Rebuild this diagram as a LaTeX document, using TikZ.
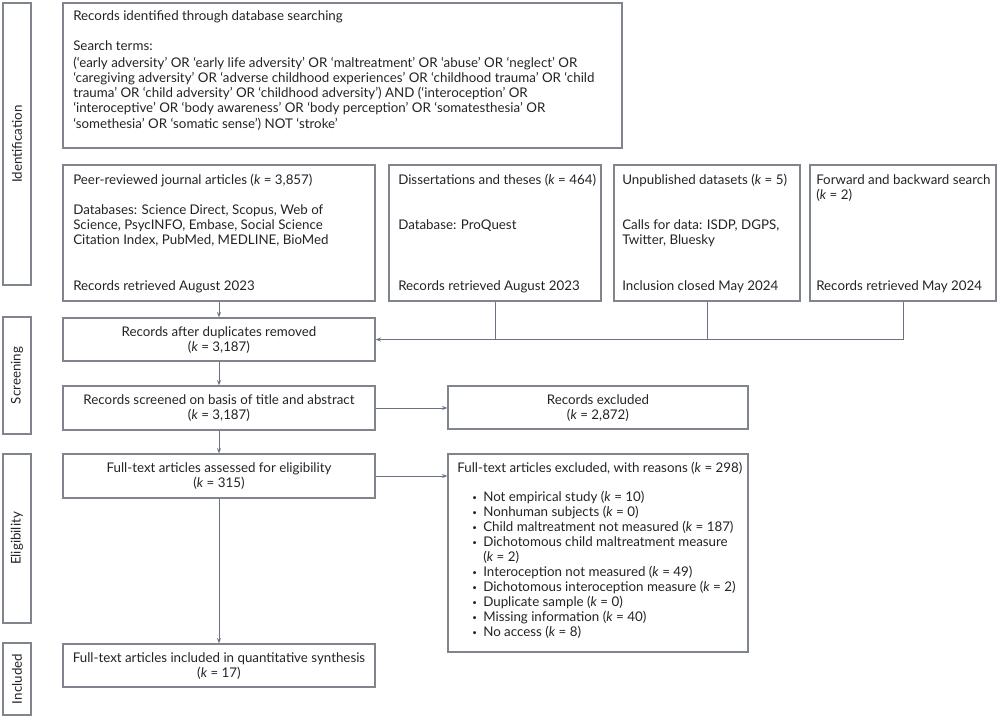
\documentclass[tikz,border=0pt]{standalone}
\usepackage{fontspec}
\setmainfont{Lato}
\usetikzlibrary{arrows.meta,fit}
\definecolor{bordc}{RGB}{128,132,140}
\definecolor{linec}{RGB}{105,115,130}
\definecolor{txtc}{RGB}{35,35,35}
\newcommand{\kk}{\textit{k}}
\begin{document}
\begin{tikzpicture}[x=0.75pt,y=-0.75pt,
  box/.style={draw=bordc,line width=0.9pt,inner sep=0pt,rectangle},
  txt/.style={inner sep=0pt,anchor=base west,text=txtc,font=\fontsize{10pt}{12pt}\selectfont},
  ctxt/.style={txt,anchor=base},
  conn/.style={draw=linec,line width=0.75pt},
  arr/.style={conn,-{Stealth[length=4pt,width=3pt]}},
  sidelab/.style={inner sep=0pt,rotate=90,text=txtc,font=\fontsize{10pt}{12pt}\selectfont}]
\useasboundingbox (0,0) rectangle (1000,717);
% side labels
\node[box,fit={(3,3)(31,285)}] (sid) {};
\node[sidelab] (sidt) at (sid.center) {Identification};
\node[box,fit={(3,317)(31,434)}] (ssc) {};
\node[sidelab] (ssct) at (ssc.center) {Screening};
\node[box,fit={(3,454)(31,623)}] (sel) {};
\node[sidelab] (selt) at (sel.center) {Eligibility};
\node[box,fit={(3,643)(31,715)}] (sin) {};
\node[sidelab] (sint) at (sin.center) {Included};
% top box
\node[box,fit={(63,3)(622,148)}] (top) {};
\node[txt] (top1) at (73,21) {Records identified through database searching};
\node[txt] (top2) at (73,51) {Search terms:};
\foreach \t [count=\i] in {
 {(‘early adversity’ OR ‘early life adversity’ OR ‘maltreatment’ OR ‘abuse’ OR ‘neglect’ OR},
 {‘caregiving adversity’ OR ‘adverse childhood experiences’ OR ‘childhood trauma’ OR ‘child},
 {trauma’ OR ‘child adversity’ OR ‘childhood adversity’) AND (‘interoception’ OR},
 {‘interoceptive’ OR ‘body awareness’ OR ‘body perception’ OR ‘somatesthesia’ OR},
 {‘somethesia’ OR ‘somatic sense’) NOT ‘stroke’}}
 \node[txt] (st\i) at (73,53+15*\i) {\t};
% source boxes
\node[box,fit={(63,165)(375,301)}] (peer) {};
\node[txt] (peer1) at (73,184) {Peer-reviewed journal articles (\kk{} = 3,857)};
\node[txt] (peer2) at (73,214) {Databases: Science Direct, Scopus, Web of};
\node[txt] (peer3) at (73,229) {Science, PsycINFO, Embase, Social Science};
\node[txt] (peer4) at (73,244) {Citation Index, PubMed, MEDLINE, BioMed};
\node[txt] (peer5) at (73,290) {Records retrieved August 2023};
\node[box,fit={(389,165)(601,301)}] (diss) {};
\node[txt] (diss1) at (398,184) {Dissertations and theses (\kk{} = 464)};
\node[txt] (diss2) at (398,229) {Database: ProQuest};
\node[txt] (diss3) at (398,290) {Records retrieved August 2023};
\node[box,fit={(614,165)(800,301)}] (unp) {};
\node[txt] (unp1) at (622,184) {Unpublished datasets (\kk{} = 5)};
\node[txt] (unp2) at (622,229) {Calls for data: ISDP, DGPS,};
\node[txt] (unp3) at (622,244) {Twitter, Bluesky};
\node[txt] (unp4) at (622,290) {Inclusion closed May 2024};
\node[box,fit={(810,165)(996,301)}] (fwd) {};
\node[txt] (fwd1) at (816,184) {Forward and backward search};
\node[txt] (fwd2) at (816,199) {(\kk{} = 2)};
\node[txt] (fwd3) at (816,290) {Records retrieved May 2024};
% main column
\node[box,fit={(63,318)(375,361)}] (dup) {};
\node[ctxt] (dup1) at (219,336) {Records after duplicates removed};
\node[ctxt] (dup2) at (219,351) {(\kk{} = 3,187)};
\node[box,fit={(63,386)(375,430)}] (scr) {};
\node[ctxt] (scr1) at (219,404) {Records screened on basis of title and abstract};
\node[ctxt] (scr2) at (219,419) {(\kk{} = 3,187)};
\node[box,fit={(63,454)(375,498)}] (full) {};
\node[ctxt] (full1) at (219,472) {Full-text articles assessed for eligibility};
\node[ctxt] (full2) at (219,487) {(\kk{} = 315)};
\node[box,fit={(63,644)(375,687)}] (inc) {};
\node[ctxt] (inc1) at (219,662) {Full-text articles included in quantitative synthesis};
\node[ctxt] (inc2) at (219,677) {(\kk{} = 17)};
% exclusion boxes
\node[box,fit={(448,386)(748,429)}] (exc) {};
\node[ctxt] (exc1) at (598,404) {Records excluded};
\node[ctxt] (exc2) at (598,419) {(\kk{} = 2,872)};
\node[box,fit={(448,454)(748,652)}] (rea) {};
\node[txt] (rea0) at (457,472) {Full-text articles excluded, with reasons (\kk{} = 298)};
\foreach \t/\b [count=\i] in {
 {Not empirical study (\kk{} = 10)}/1,
 {Nonhuman subjects (\kk{} = 0)}/1,
 {Child maltreatment not measured (\kk{} = 187)}/1,
 {Dichotomous child maltreatment measure}/1,
 {(\kk{} = 2)}/0,
 {Interoception not measured (\kk{} = 49)}/1,
 {Dichotomous interoception measure (\kk{} = 2)}/1,
 {Duplicate sample (\kk{} = 0)}/1,
 {Missing information (\kk{} = 40)}/1,
 {No access (\kk{} = 8)}/1}
 {
 \node[txt] (rea\i) at (483,486+15*\i) {\t};
 \ifnum\b=1 \node[txt,font=\fontsize{6pt}{7pt}\selectfont] (bul\i) at (472,485+15*\i) {•};\fi
 }
% connectors
\draw[arr] (peer.south) -- (dup.north);
\draw[conn] (diss.south) -- (diss.south |- dup.east);
\draw[conn] (unp.south) -- (unp.south |- dup.east);
\draw[arr] (fwd.south) |- (dup.east);
\draw[arr] (dup.south) -- (scr.north);
\draw[arr] (scr.south) -- (full.north);
\draw[arr] (full.south) -- (inc.north);
\draw[arr] (scr.east) -- (scr.east -| exc.west);
\draw[arr] (full.east) -- (full.east -| rea.west);
\end{tikzpicture}
\end{document}
